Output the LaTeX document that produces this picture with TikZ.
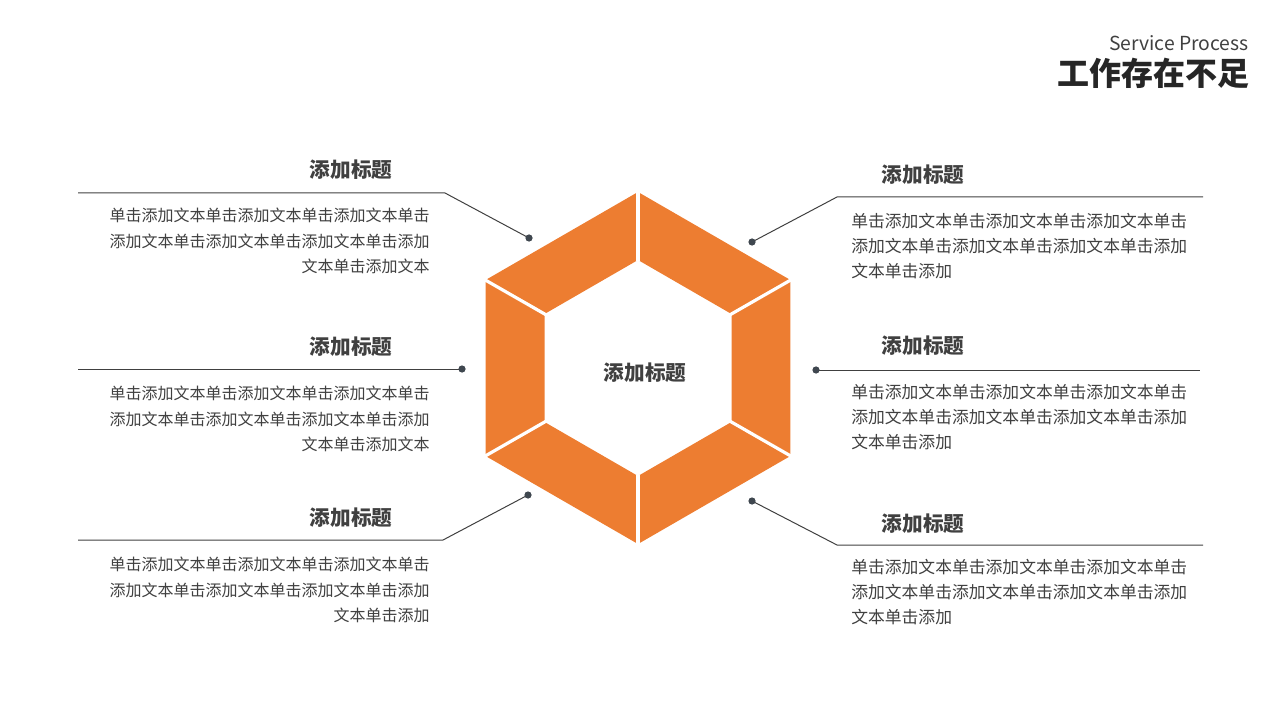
\documentclass[tikz,border=0pt]{standalone}
\usepackage{fontspec}
\setmainfont{Noto Sans CJK SC}
\usepackage{tikz}

\definecolor{hexorange}{RGB}{237,125,49}
\definecolor{txtgray}{RGB}{64,64,64}
\definecolor{dotgray}{RGB}{63,71,79}

\begin{document}
\begin{tikzpicture}[x=0.75pt,y=0.75pt,yscale=-1,xscale=1,
    seg/.style={fill=hexorange},
    gapline/.style={draw=white,line width=2.4pt},
    leader/.style={draw=txtgray,line width=0.75pt},
    dotmark/.style={fill=dotgray},
    headtext/.style={inner sep=0pt,text=txtgray,font=\bfseries\fontsize{15.5}{18}\selectfont},
    bodytext/.style={inner sep=0pt,text=txtgray,font=\fontsize{12}{19}\selectfont},
    bodytextr/.style={inner sep=0pt,text=txtgray,font=\fontsize{12.6}{18.8}\selectfont}]
        \path[use as bounding box] (0,0) rectangle (1280,720);

        %Shape: Hexagon ring segments
        \fill[seg] (638,192) -- (790.4,280) -- (731.5,314) -- (638,260) -- cycle ;
        \fill[seg] (790.4,280) -- (790.4,456) -- (731.5,422) -- (731.5,314) -- cycle ;
        \fill[seg] (790.4,456) -- (638,544) -- (638,476) -- (731.5,422) -- cycle ;
        \fill[seg] (638,544) -- (485.6,456) -- (544.5,422) -- (638,476) -- cycle ;
        \fill[seg] (485.6,456) -- (485.6,280) -- (544.5,314) -- (544.5,422) -- cycle ;
        \fill[seg] (485.6,280) -- (638,192) -- (638,260) -- (544.5,314) -- cycle ;
        %Straight Lines: gaps between segments
        \draw[gapline] (638,190) -- (638,261) ;
        \draw[gapline] (792.5,279) -- (730.5,314.5) ;
        \draw[gapline] (792.5,457) -- (730.5,421.5) ;
        \draw[gapline] (638,546) -- (638,475) ;
        \draw[gapline] (483.5,457) -- (545.5,421.5) ;
        \draw[gapline] (483.5,279) -- (545.5,314.5) ;

        % Leader points
        \coordinate (tl) at (529,238);
        \coordinate (tlbend) at (445,193);
        \coordinate (tlend) at (78,193);
        \coordinate (ml) at (462,369);
        \coordinate (mlend) at (78,369);
        \coordinate (bl) at (528,495);
        \coordinate (blbend) at (443,540);
        \coordinate (blend) at (78,540);
        \coordinate (tr) at (752,242);
        \coordinate (trbend) at (837,197);
        \coordinate (trend) at (1203,197);
        \coordinate (mr) at (816,370);
        \coordinate (mrend) at (1200,370);
        \coordinate (br) at (752,501);
        \coordinate (brbend) at (837,545);
        \coordinate (brend) at (1203,545);

        %Straight Lines
        \draw[leader] (tl) -- (tlbend) -- (tlend) ;
        \draw[leader] (ml) -- (mlend) ;
        \draw[leader] (bl) -- (blbend) -- (blend) ;
        \draw[leader] (tr) -- (trbend) -- (trend) ;
        \draw[leader] (mr) -- (mrend) ;
        \draw[leader] (br) -- (brbend) -- (brend) ;
        %Dots
        \fill[dotmark] (tl) circle [radius=3.6] ;
        \fill[dotmark] (ml) circle [radius=3.6] ;
        \fill[dotmark] (bl) circle [radius=3.6] ;
        \fill[dotmark] (tr) circle [radius=3.6] ;
        \fill[dotmark] (mr) circle [radius=3.6] ;
        \fill[dotmark] (br) circle [radius=3.6] ;

        % Text Node
        \node[headtext] (center) at (645,373) {添加标题};
        % Text Node
        \node[headtext] (headtl) at (351,170) {添加标题};
        \node[headtext] (headml) at (351,347) {添加标题};
        \node[headtext] (headbl) at (351,518) {添加标题};
        \node[headtext] (headtr) at (923,175) {添加标题};
        \node[headtext] (headmr) at (923,346) {添加标题};
        \node[headtext] (headbr) at (923,524) {添加标题};
        % Text Node
        \node[bodytext,anchor=north east,align=right] (bodytl) at (430,208) {单击添加文本单击添加文本单击添加文本单击\\添加文本单击添加文本单击添加文本单击添加\\文本单击添加文本};
        \node[bodytext,anchor=north east,align=right] (bodyml) at (430,386) {单击添加文本单击添加文本单击添加文本单击\\添加文本单击添加文本单击添加文本单击添加\\文本单击添加文本};
        \node[bodytext,anchor=north east,align=right] (bodybl) at (430,557) {单击添加文本单击添加文本单击添加文本单击\\添加文本单击添加文本单击添加文本单击添加\\文本单击添加};
        \node[bodytextr,anchor=north west,align=left] (bodytr) at (851,213) {单击添加文本单击添加文本单击添加文本单击\\添加文本单击添加文本单击添加文本单击添加\\文本单击添加};
        \node[bodytextr,anchor=north west,align=left] (bodymr) at (851,384) {单击添加文本单击添加文本单击添加文本单击\\添加文本单击添加文本单击添加文本单击添加\\文本单击添加};
        \node[bodytextr,anchor=north west,align=left] (bodybr) at (851,559) {单击添加文本单击添加文本单击添加文本单击\\添加文本单击添加文本单击添加文本单击添加\\文本单击添加};

        % Title
        \node[inner sep=0pt,anchor=east,text=txtgray,font=\fontsize{14.5}{16}\selectfont] (subtitle) at (1249,43) {Service Process};
        \node[inner sep=0pt,anchor=east,text=black!85,font=\bfseries\fontsize{24}{28}\selectfont] (title) at (1250,73) {工作存在不足};

\end{tikzpicture}
\end{document}
